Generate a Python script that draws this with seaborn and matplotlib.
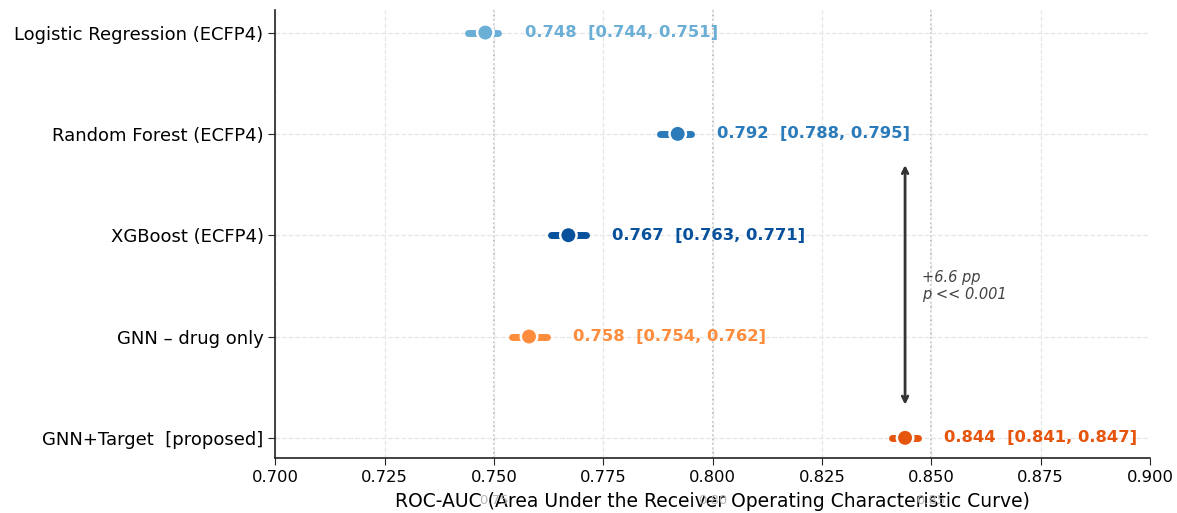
import numpy as np
import pandas as pd
import matplotlib
matplotlib.use("Agg")
import matplotlib.pyplot as plt
import seaborn as sns

models = ['Logistic Regression (ECFP4)', 'Random Forest (ECFP4)', 'XGBoost (ECFP4)',
          'GNN – drug only', 'GNN+Target  [proposed]']
auc = [0.748, 0.792, 0.767, 0.758, 0.844]
ci_lo = [0.744, 0.788, 0.763, 0.754, 0.841]
ci_hi = [0.751, 0.795, 0.771, 0.762, 0.847]
colors = ['#6baed6', '#2b7bba', '#08519c', '#fd8d3c', '#e6550d']
ref_lines = [0.75, 0.80, 0.85]

df = pd.DataFrame({'model': models, 'auc': auc, 'lo': ci_lo, 'hi': ci_hi})
ypos = np.arange(len(models))

sns.set_style('white')
plt.rcParams['font.family'] = ['DejaVu Sans']
fig, ax = plt.subplots(figsize=(11.77, 5.13), dpi=100)

ax.set_axisbelow(True)
ax.grid(True, linestyle='--', color='#e6e6e6', linewidth=0.9)
for r in ref_lines:
    ax.axvline(r, color='#b0b0b0', linestyle=':', linewidth=1.2, zorder=0)

for i, row in df.iterrows():
    ax.hlines(ypos[i], row['lo'], row['hi'], color=colors[i], linewidth=5,
              capstyle='round', zorder=2)

sns.scatterplot(data=df, x='auc', y='model', hue='model', palette=colors,
                s=140, edgecolor='white', linewidth=1.8, legend=False, zorder=3, ax=ax)

for i, row in df.iterrows():
    ax.text(row['hi'] + 0.006, ypos[i], f"{row['auc']:.3f}  [{row['lo']:.3f}, {row['hi']:.3f}]",
            color=colors[i], fontsize=11.8, fontweight='bold', va='center', ha='left')

# improvement arrow
ax.annotate('', xy=(auc[4], 3.7), xytext=(auc[4], 1.28),
            arrowprops=dict(arrowstyle='<->', color='#333333', lw=2))
ax.text(0.8478, 2.5, '+6.6 pp\np << 0.001', fontsize=10.5, style='italic',
        color='#444444', va='center', ha='left')

for r in ref_lines:
    ax.text(r, -0.08, f'{r:.2f}', transform=ax.get_xaxis_transform(),
            ha='center', va='top', fontsize=9.5, color='#b5b5b5')

ax.set_xlim(0.70, 0.90)
ax.set_ylim(4.2, -0.22)
ax.set_xticks(np.arange(0.700, 0.901, 0.025))
ax.set_xticklabels([f'{t:.3f}' for t in np.arange(0.700, 0.901, 0.025)])
ax.tick_params(axis='x', labelsize=11.8, length=5, bottom=True, labelcolor='black')
ax.tick_params(axis='y', labelsize=13, length=5, left=True, labelcolor='black')
ax.set_xlabel('ROC-AUC (Area Under the Receiver Operating Characteristic Curve)',
              fontsize=13.5, labelpad=5, color='black')
ax.set_ylabel('')
sns.despine(ax=ax)
for s in ['left', 'bottom']:
    ax.spines[s].set_color('#222222')
    ax.spines[s].set_linewidth(1.2)

plt.subplots_adjust(left=0.234, right=0.977, top=0.98, bottom=0.107)
plt.savefig('out.png', dpi=100)
